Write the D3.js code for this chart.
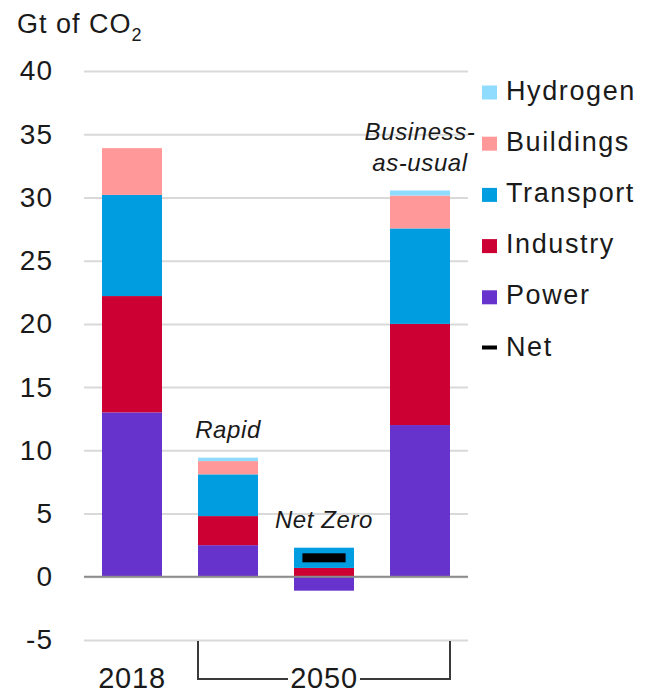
<!DOCTYPE html>
<html>
<head>
<meta charset="utf-8">
<script src="https://cdn.jsdelivr.net/npm/d3@7"></script>
<style>
  body { margin: 0; background: #fff; }
  svg { display: block; font-family: "Liberation Sans", Arial, sans-serif; }
  text { fill: #1a1a1a; }
</style>
</head>
<body>
<div id="chart"></div>
<script>
// data
const categories = ['2018', 'Rapid', 'Net Zero', 'Business-as-usual'];
const sectors = ['Power', 'Industry', 'Transport', 'Buildings', 'Hydrogen'];
const power = [13.0, 2.5, -1.1, 12.0];
const industry = [9.2, 2.3, 0.7, 8.0];
const transport = [8.0, 3.3, 1.6, 7.55];
const buildings = [3.7, 1.05, 0, 2.6];
const hydrogen = [0, 0.27, 0, 0.4];
const net = [null, null, 1.5, null];
const barLabels = [[], ['Rapid'], ['Net Zero'], ['Business-', 'as-usual']];
const yTicks = [-5, 0, 5, 10, 15, 20, 25, 30, 35, 40];
const legendItems = ['Hydrogen', 'Buildings', 'Transport', 'Industry', 'Power', 'Net'];
const colors = {
  Power: '#6633cc',
  Industry: '#cc0033',
  Transport: '#009ee0',
  Buildings: '#ff9999',
  Hydrogen: '#8fdcff',
  Net: '#000'
};

const width = 646, height = 694;
const margin = { top: 71, left: 84, right: 178, bottom: 54 };

const rows = categories.map((c, i) => ({
  cat: c,
  Power: power[i],
  Industry: industry[i],
  Transport: transport[i],
  Buildings: buildings[i],
  Hydrogen: hydrogen[i],
  net: net[i]
}));

const svg = d3.select('#chart').append('svg')
  .attr('width', width)
  .attr('height', height);

// scales
const x = d3.scaleBand()
  .domain(categories)
  .range([margin.left, width - margin.right])
  .paddingInner(0.375)
  .paddingOuter(0.1875);
const y = d3.scaleLinear()
  .domain([-5, 40])
  .range([height - margin.bottom, margin.top]);

// gridlines + y labels (plain hyphen for negatives, like the original)
const yAxis = svg.append('g')
  .attr('transform', `translate(${margin.left},0)`)
  .call(d3.axisLeft(y)
    .tickValues(yTicks)
    .tickFormat(d => String(d))
    .tickSize(-(width - margin.right - margin.left))
    .tickPadding(31));
yAxis.select('.domain').remove();
yAxis.selectAll('.tick line')
  .attr('stroke', '#d9d9d9')
  .attr('stroke-width', 2);
yAxis.selectAll('.tick text')
  .attr('font-size', 28)
  .attr('font-family', '"Liberation Sans", Arial, sans-serif')
  .attr('fill', '#1a1a1a')
  .attr('letter-spacing', 1);

// title
const title = svg.append('text')
  .attr('x', 17)
  .attr('y', 33)
  .attr('font-size', 27)
  .attr('letter-spacing', 1);
title.append('tspan').text('Gt of CO');
title.append('tspan').text('2').attr('font-size', 18).attr('dy', 8);

// stacked bars
const stack = d3.stack().keys(sectors).offset(d3.stackOffsetDiverging);
const series = stack(rows);

svg.append('g').selectAll('g')
  .data(series).enter()
  .append('g')
    .attr('fill', d => colors[d.key])
  .selectAll('rect')
  .data(d => d).enter()
  .append('rect')
    .attr('x', d => x(d.data.cat))
    .attr('width', x.bandwidth())
    .attr('y', d => y(Math.max(d[0], d[1])))
    .attr('height', d => Math.abs(y(d[0]) - y(d[1])));

// zero line over the bars
svg.append('line')
  .attr('x1', margin.left)
  .attr('x2', width - margin.right)
  .attr('y1', y(0))
  .attr('y2', y(0))
  .attr('stroke', '#8c8c8c')
  .attr('stroke-width', 2);

// net markers
svg.append('g').selectAll('rect')
  .data(rows.filter(d => d.net !== null)).enter()
  .append('rect')
    .attr('x', d => x(d.cat) + x.bandwidth() * 0.14)
    .attr('width', x.bandwidth() * 0.72)
    .attr('y', d => y(d.net) - 4.5)
    .attr('height', 9)
    .attr('fill', colors.Net);

// scenario labels above bars
rows.forEach((d, i) => {
  const lines = barLabels[i];
  const top = d3.max(series, s => s[i][1]);
  lines.forEach((t, j) => {
    svg.append('text')
      .attr('x', x(d.cat) + x.bandwidth() / 2)
      .attr('y', y(top) - 19.5 - (lines.length - 1 - j) * 31)
      .attr('text-anchor', 'middle')
      .attr('font-size', 24)
      .attr('letter-spacing', 0.6)
      .attr('font-style', 'italic')
      .text(t);
  });
});

// x labels
const baseY = 688;
svg.append('text')
  .attr('x', x('2018') + x.bandwidth() / 2)
  .attr('y', baseY)
  .attr('text-anchor', 'middle')
  .attr('font-size', 29)
  .attr('letter-spacing', 0.8)
  .text('2018');

const bx0 = x('Rapid'), bx1 = x('Business-as-usual') + x.bandwidth();
const mid = x('Net Zero') + x.bandwidth() / 2;
const by = 679, gap = 36;
svg.append('path')
  .attr('d', `M${bx0},${y(-5) + 1}V${by}H${mid - gap}M${mid + gap},${by}H${bx1}V${y(-5) + 1}`)
  .attr('fill', 'none')
  .attr('stroke', '#3a3a3a')
  .attr('stroke-width', 2);
svg.append('text')
  .attr('x', mid)
  .attr('y', baseY)
  .attr('text-anchor', 'middle')
  .attr('font-size', 29)
  .attr('letter-spacing', 0.8)
  .text('2050');

// legend
const legend = svg.append('g')
  .attr('transform', 'translate(482,0)');
const li = legend.selectAll('g')
  .data(legendItems).enter()
  .append('g')
    .attr('transform', (d, i) => `translate(0, ${99.5 + i * 51.2})`);
li.filter(d => d !== 'Net').append('rect')
  .attr('x', 0)
  .attr('y', -14)
  .attr('width', 15)
  .attr('height', 14)
  .attr('fill', d => colors[d]);
li.filter(d => d === 'Net').append('rect')
  .attr('x', 0)
  .attr('y', -10)
  .attr('width', 15)
  .attr('height', 4)
  .attr('fill', colors.Net);
li.append('text')
  .attr('x', 24)
  .attr('y', 0)
  .attr('font-size', 27)
  .attr('letter-spacing', 1.6)
  .text(d => d);
</script>
</body>
</html>
